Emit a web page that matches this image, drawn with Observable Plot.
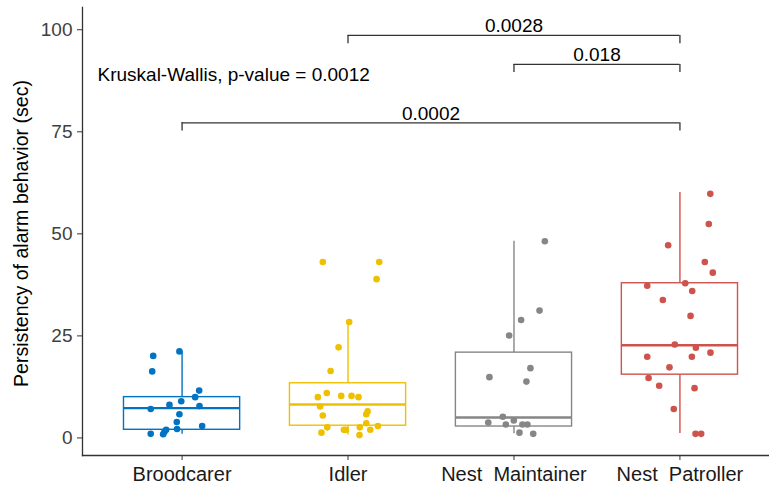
<!DOCTYPE html>
<html>
<head>
<meta charset="utf-8">
<script src="https://cdn.jsdelivr.net/npm/d3@7"></script>
<script src="https://cdn.jsdelivr.net/npm/@observablehq/plot@0.6"></script>
<style>
  body { margin: 0; background: #fff; }
  #chart svg { font-family: "Liberation Sans", Arial, sans-serif; display: block; }
</style>
</head>
<body>
<div id="chart"></div>
<script>
// Task groups and their colours (JCO palette)
const roles = ["Broodcarer", "Idler", "Nest\u00a0 Maintainer", "Nest\u00a0 Patroller"];
const roleColors = ["#0073C2", "#EFC000", "#868686", "#CD534C"];

// Persistency of alarm behaviour (sec) per individual, with horizontal jitter (in group widths)
const broodcarer       = [20.1, 21.2, 16.3, 11.6, 10.0, 9.0, 8.1, 7.8, 7.1, 5.8, 3.9, 2.9, 2.2, 2.0, 1.5, 0.9, 1.0];
const broodcarerJitter = [-0.174, -0.016, -0.180, 0.103, 0.079, -0.005, -0.076, 0.105, -0.189, -0.016, -0.032, 0.121, -0.030, -0.096, -0.106, -0.114, -0.189];

const idler       = [43.1, 43.1, 38.9, 28.4, 22.2, 16.4, 10.0, 11.0, 10.3, 10.3, 10.0, 7.7, 5.5, 6.5, 5.8, 3.6, 2.9, 2.6, 2.6, 1.3, 2.0, 2.0, 2.0, 0.7];
const idlerJitter = [-0.152, 0.188, 0.172, 0.007, -0.057, -0.105, -0.182, -0.128, -0.041, 0.021, 0.063, -0.168, -0.152, 0.118, 0.110, 0.110, 0.180, 0.071, -0.125, -0.160, -0.025, -0.013, 0.134, 0.069];

const maintainer       = [48.2, 31.2, 28.9, 25.1, 17.1, 14.9, 13.8, 5.2, 3.8, 4.3, 3.3, 3.3, 3.3, 1.3, 1.0];
const maintainerJitter = [0.186, 0.154, 0.043, -0.029, 0.099, -0.148, 0.075, -0.067, -0.155, -0.001, -0.049, 0.051, 0.081, 0.033, 0.116];

const patroller       = [59.8, 52.4, 47.2, 43.1, 40.5, 37.3, 37.9, 36.0, 33.8, 29.9, 22.9, 22.1, 20.9, 19.9, 19.9, 17.3, 14.7, 12.8, 12.2, 7.1, 1.0, 1.0];
const patrollerJitter = [0.183, 0.174, -0.071, 0.150, 0.198, -0.197, 0.032, 0.074, -0.103, 0.064, -0.031, 0.096, 0.184, -0.197, 0.072, -0.063, -0.189, -0.125, 0.088, -0.037, 0.094, 0.128];

// Box-plot summaries per group
const boxLower  = [0.9, 0.7, 1.0, 1.1];
const boxQ1     = [2.0, 3.0, 2.8, 15.5];
const boxMedian = [7.3, 8.2, 5.0, 22.7];
const boxQ3     = [10.0, 13.4, 20.9, 37.9];
const boxUpper  = [21.2, 28.4, 48.2, 60.1];

// Pairwise comparisons (group numbers), p-values and bracket heights
const bracketFrom  = [2, 3, 1];
const bracketTo    = [4, 4, 4];
const bracketLabel = ["0.0028", "0.018", "0.0002"];
const bracketY     = [98.6, 91.5, 77.2];
const tipLength    = 2.0;

const kwLabel = "Kruskal-Wallis, p-value = 0.0012";
const yTitle = "Persistency of alarm behavior (sec)";
const yTicks = [0, 25, 50, 75, 100];

// ---- tables for the marks ----
const groups = [
  [broodcarer, broodcarerJitter],
  [idler, idlerJitter],
  [maintainer, maintainerJitter],
  [patroller, patrollerJitter]
];
const points = groups.flatMap(([vals, jit], i) =>
  vals.map((v, j) => ({ pos: i + 1 + jit[j], value: v, role: roles[i] }))
);
const boxHalf = 0.35;
const boxes = roles.map((role, i) => ({
  role, pos: i + 1,
  lower: boxLower[i], q1: boxQ1[i], median: boxMedian[i], q3: boxQ3[i], upper: boxUpper[i]
}));
const brackets = bracketLabel.map((label, i) => ({
  from: bracketFrom[i], to: bracketTo[i], label, y: bracketY[i]
}));
const bracketTips = brackets.flatMap(b => [
  { x: b.from, y: b.y }, { x: b.to, y: b.y }
]);

const font = 19;
const ink = "#333333";

const chart = Plot.plot({
  width: 769,
  height: 489,
  marginLeft: 82,
  marginRight: 0,
  marginTop: 7,
  marginBottom: 34,
  style: { fontFamily: "'Liberation Sans', Arial, sans-serif", background: "#fff" },
  x: { type: "linear", domain: [0.4, 4.6], range: [82, 779] },
  y: { domain: [-4.3, 105.45] },
  color: { domain: roles, range: roleColors },
  marks: [
    // axis lines
    Plot.frame({ anchor: "left", stroke: ink, strokeWidth: 1.3 }),
    Plot.frame({ anchor: "bottom", stroke: ink, strokeWidth: 1.3 }),
    Plot.axisY({
      ticks: yTicks, tickSize: 5, tickPadding: 5, fontSize: font,
      stroke: ink, fill: "#404040", label: null
    }),
    Plot.axisX({
      ticks: [1, 2, 3, 4], tickFormat: d => roles[d - 1],
      tickSize: 5, tickPadding: 6.5, fontSize: 20,
      stroke: ink, fill: "#1a1a1a", label: null
    }),
    Plot.text([yTitle], {
      frameAnchor: "left", rotate: -90, textAnchor: "middle", lineAnchor: "middle",
      dx: -61, dy: 2, fontSize: 19.6, fill: "#000"
    }),

    // whiskers
    Plot.ruleX(boxes, { x: "pos", y1: "q3", y2: "upper", stroke: "role", strokeWidth: 1.4 }),
    Plot.ruleX(boxes, { x: "pos", y1: "lower", y2: "q1", stroke: "role", strokeWidth: 1.4 }),
    // boxes
    Plot.rect(boxes, {
      x1: d => d.pos - boxHalf, x2: d => d.pos + boxHalf, y1: "q1", y2: "q3",
      fill: "white", stroke: "role", strokeWidth: 1.4
    }),
    // medians
    Plot.ruleY(boxes, {
      x1: d => d.pos - boxHalf, x2: d => d.pos + boxHalf, y: "median",
      stroke: "role", strokeWidth: 2.4
    }),
    // jittered observations
    Plot.dot(points, { x: "pos", y: "value", fill: "role", r: 3.3 }),

    // comparison brackets
    Plot.ruleY(brackets, { x1: "from", x2: "to", y: "y", stroke: ink, strokeWidth: 1.3 }),
    Plot.ruleX(bracketTips, { x: "x", y1: d => d.y - tipLength, y2: "y", stroke: ink, strokeWidth: 1.3 }),
    Plot.text(brackets, {
      x: d => (d.from + d.to) / 2, y: "y", text: "label",
      lineAnchor: "bottom", dy: -3, fontSize: font, fill: "#000"
    }),
    Plot.text([kwLabel], {
      frameAnchor: "top-left", textAnchor: "start", lineAnchor: "bottom",
      dx: 15, dy: 73, fontSize: font, fill: "#000"
    })
  ]
});

document.getElementById("chart").append(chart);
</script>
</body>
</html>
